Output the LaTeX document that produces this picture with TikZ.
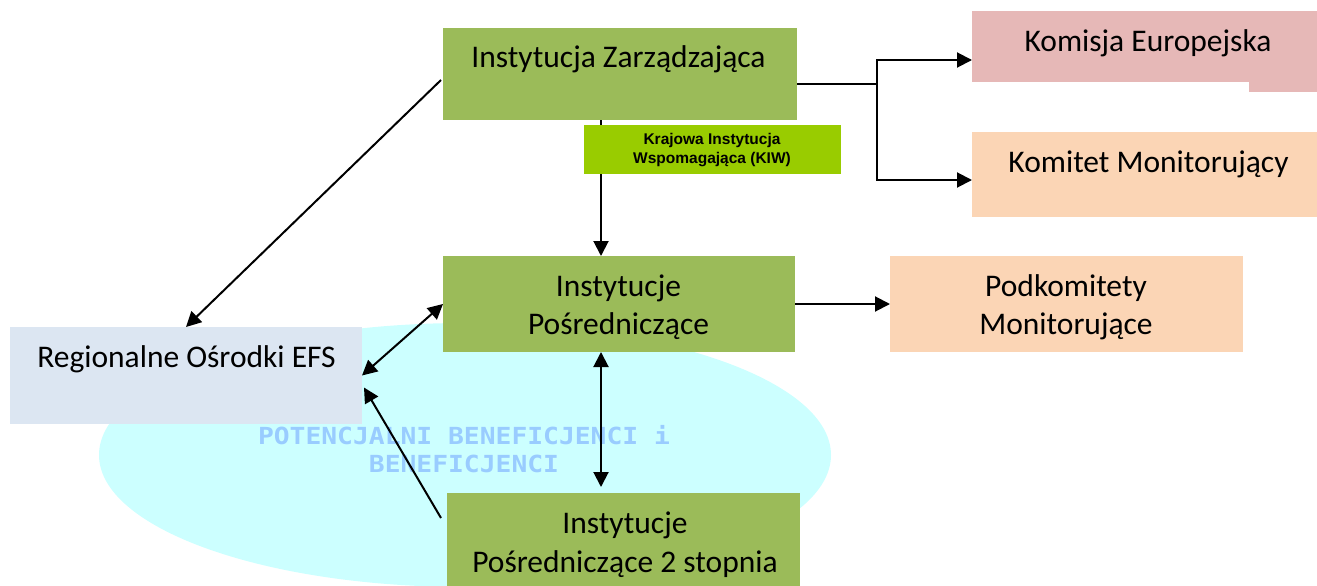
\documentclass[tikz,border=0pt]{standalone}
\usepackage{fontspec}
\setmainfont{Carlito}
\newfontfamily\arialf{Liberation Sans}
\newfontfamily\monof{DejaVu Sans Mono}
\usetikzlibrary{arrows.meta,calc}
\definecolor{boxgreen}{HTML}{9BBB59}
\definecolor{kiwgreen}{HTML}{99CC00}
\definecolor{boxpink}{HTML}{E6B8B7}
\definecolor{boxpeach}{HTML}{FBD5B5}
\definecolor{boxblue}{HTML}{DCE6F2}
\definecolor{ellcol}{HTML}{CCFFFF}
\definecolor{elltext}{HTML}{99CCFF}
\begin{document}
\begin{tikzpicture}[x=1pt,y=-1pt,
  box/.style={draw=none, inner sep=0pt, outer sep=0pt, anchor=north west},
  lbl/.style={font=\fontsize{31.5}{38}\selectfont, inner sep=0pt, anchor=base},
  kiwlbl/.style={font=\arialf\bfseries\fontsize{15.5}{19}\selectfont, align=center, inner sep=0pt},
  elllbl/.style={font=\monof\bfseries\fontsize{23.5}{28}\selectfont, text=elltext, inner sep=0pt, anchor=base},
  tip/.tip={Triangle[length=15pt,width=15pt]},
  line/.style={line width=2pt},
  conn/.style={line width=2pt, -tip},
  biconn/.style={line width=2pt, tip-tip}]
\useasboundingbox (0,0) rectangle (1317,586);
% background ellipse
\fill[ellcol] (465,455) ellipse [x radius=366, y radius=132];
\node[elllbl] (ell1) at (464,444) {\scalebox{1.12}[1]{POTENCJALNI BENEFICJENCI i}};
\node[elllbl] (ell2) at (464,472) {\scalebox{1.12}[1]{BENEFICJENCI}};
% boxes
\node[box, fill=boxgreen, minimum width=354pt, minimum height=92pt] (iz) at (443,28) {};
\node[box, fill=boxpink, minimum width=345pt, minimum height=71pt] (km) at (972,11) {};
\node[box, fill=boxpink, minimum width=68pt, minimum height=11pt] (kmnotch) at (1249,81) {};
\node[box, fill=boxpeach, minimum width=345pt, minimum height=85pt] (kmon) at (972,132) {};
\node[box, fill=boxgreen, minimum width=352pt, minimum height=96pt] (ip) at (443,256) {};
\node[box, fill=boxpeach, minimum width=353pt, minimum height=96pt] (pk) at (890,256) {};
\node[box, fill=boxblue, minimum width=352pt, minimum height=97pt] (reg) at (10,327) {};
\node[box, fill=boxgreen, minimum width=353pt, minimum height=100pt] (ips) at (447,493) {};
% labels
\node[lbl] (izl) at (618.5,67) {Instytucja Zarządzająca};
\node[lbl] (kml) at (1148,52) {Komisja Europejska};
\node[lbl] (kmonl) at (1148.5,172) {Komitet Monitorujący};
\node[lbl] (ipl1) at (618.5,296) {Instytucje};
\node[lbl] (ipl2) at (618.5,334) {Pośredniczące};
\node[lbl] (pkl1) at (1066,296) {Podkomitety};
\node[lbl] (pkl2) at (1066,334) {Monitorujące};
\node[lbl] (regl) at (186.5,367) {Regionalne Ośrodki EFS};
\node[lbl] (ipsl1) at (625,533) {Instytucje};
\node[lbl] (ipsl2) at (625,572) {Pośredniczące 2 stopnia};
% connectors
\coordinate (izout) at ($(iz.east)+(0,10)$);
\coordinate (fork) at ($(izout)+(80,0)$);
\coordinate (kmin) at ($(km.west)+(0,13.5)$);
\coordinate (kmonin) at ($(kmon.west)+(0,5.5)$);
\draw[line] (izout) -- (fork);
\draw[conn] (fork) |- (kmin);
\draw[conn] (fork) |- (kmonin);
\draw[conn] ($(iz.south west)+(158,0)$) -- ($(ip.north west)+(158,0)$);
\draw[conn] ($(iz.west)+(-2,6)$) -- (reg.north);
\draw[biconn] (ip.west) -- (reg.east);
\draw[conn] ($(ips.north west)+(-6,25)$) -- ($(reg.east)+(2,12)$);
\draw[biconn] ($(ip.south west)+(158,0)$) -- ($(ips.north west)+(154,-6)$);
\draw[conn] (ip.east) -- (pk.west);
% KIW box over the line
\node[box, fill=kiwgreen, minimum width=257pt, minimum height=49pt] (kiw) at (584,125) {};
\node[kiwlbl] (kiwl) at (712,150) {Krajowa Instytucja\\Wspomagająca (KIW)};
\end{tikzpicture}
\end{document}
